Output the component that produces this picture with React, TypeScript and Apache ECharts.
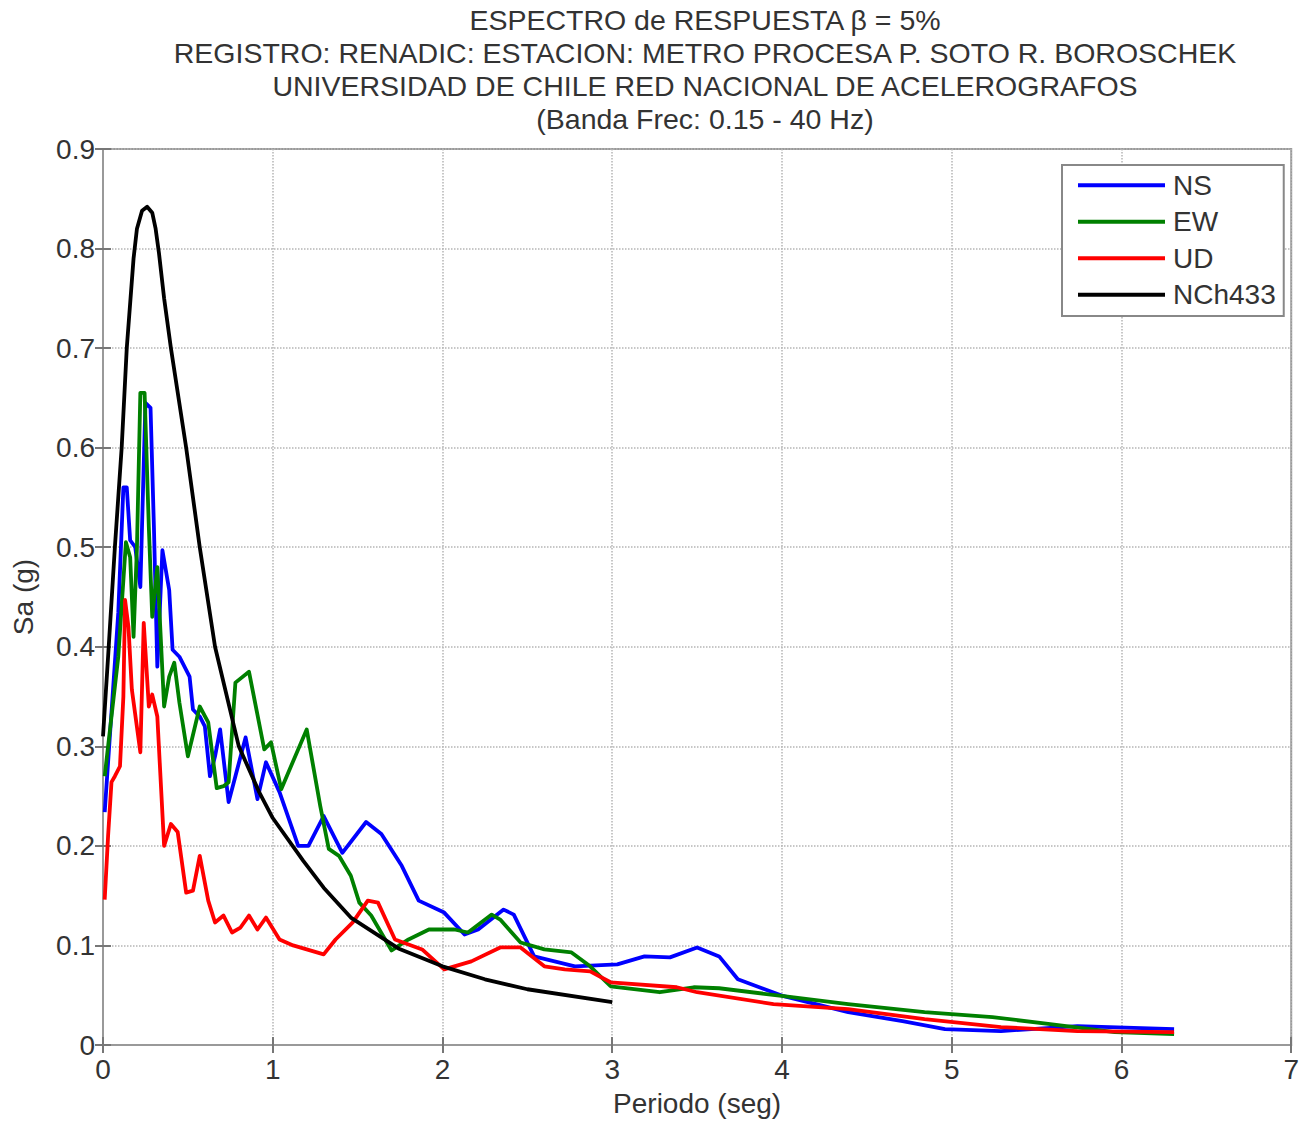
import React, { useEffect, useRef } from "react";
import * as echarts from "echarts";

const titleLines = [
  "ESPECTRO de RESPUESTA β = 5%",
  "REGISTRO: RENADIC: ESTACION: METRO PROCESA P. SOTO R. BOROSCHEK",
  "UNIVERSIDAD DE CHILE RED NACIONAL DE ACELEROGRAFOS",
  "(Banda Frec: 0.15 - 40 Hz)",
];

const xName = "Periodo (seg)";
const yName = "Sa (g)";

const nsT = [0.01, 0.05, 0.09, 0.12, 0.14, 0.16, 0.19, 0.22, 0.25, 0.28, 0.3, 0.32, 0.35, 0.39, 0.41, 0.45, 0.51, 0.53, 0.57, 0.6, 0.63, 0.66, 0.69, 0.74, 0.78, 0.84, 0.91, 0.96, 1.04, 1.15, 1.21, 1.3, 1.41, 1.55, 1.64, 1.76, 1.86, 2.01, 2.13, 2.21, 2.36, 2.42, 2.54, 2.78, 3.03, 3.19, 3.34, 3.5, 3.63, 3.74, 4.01, 4.39, 4.71, 4.96, 5.29, 5.74, 6.31];
const nsSa = [0.234, 0.334, 0.434, 0.56, 0.56, 0.507, 0.5, 0.46, 0.645, 0.64, 0.52, 0.38, 0.497, 0.457, 0.397, 0.39, 0.37, 0.337, 0.33, 0.32, 0.27, 0.29, 0.317, 0.244, 0.27, 0.309, 0.247, 0.284, 0.254, 0.2, 0.2, 0.23, 0.193, 0.224, 0.212, 0.18, 0.145, 0.133, 0.111, 0.116, 0.136, 0.131, 0.089, 0.079, 0.081, 0.089, 0.088, 0.098, 0.089, 0.066, 0.049, 0.033, 0.024, 0.016, 0.014, 0.019, 0.016];

const ewT = [0.01, 0.05, 0.09, 0.135, 0.16, 0.18, 0.2, 0.22, 0.245, 0.27, 0.29, 0.32, 0.36, 0.39, 0.42, 0.45, 0.5, 0.57, 0.62, 0.67, 0.71, 0.74, 0.78, 0.86, 0.95, 0.99, 1.05, 1.2, 1.28, 1.33, 1.39, 1.46, 1.51, 1.58, 1.7, 1.8, 1.92, 2.07, 2.15, 2.29, 2.34, 2.46, 2.6, 2.76, 2.87, 2.99, 3.28, 3.48, 3.63, 4.01, 4.39, 4.84, 5.24, 5.58, 5.96, 6.31];
const ewSa = [0.27, 0.33, 0.39, 0.505, 0.49, 0.41, 0.5, 0.655, 0.655, 0.52, 0.43, 0.48, 0.34, 0.37, 0.384, 0.344, 0.29, 0.34, 0.324, 0.258, 0.26, 0.264, 0.364, 0.375, 0.297, 0.304, 0.257, 0.317, 0.24, 0.197, 0.19, 0.17, 0.143, 0.13, 0.095, 0.106, 0.116, 0.116, 0.113, 0.131, 0.126, 0.103, 0.096, 0.093, 0.079, 0.059, 0.053, 0.058, 0.057, 0.049, 0.041, 0.033, 0.028, 0.021, 0.013, 0.011];

const udT = [0.01, 0.03, 0.05, 0.07, 0.1, 0.12, 0.13, 0.15, 0.17, 0.22, 0.24, 0.27, 0.29, 0.32, 0.36, 0.4, 0.44, 0.49, 0.53, 0.57, 0.62, 0.66, 0.71, 0.76, 0.81, 0.86, 0.91, 0.96, 1.04, 1.12, 1.2, 1.3, 1.37, 1.47, 1.56, 1.62, 1.72, 1.88, 2.01, 2.17, 2.34, 2.46, 2.6, 2.72, 2.87, 2.99, 3.38, 3.5, 3.95, 4.39, 4.84, 5.29, 5.74, 6.31];
const udSa = [0.146, 0.21, 0.264, 0.27, 0.28, 0.35, 0.447, 0.42, 0.357, 0.294, 0.424, 0.34, 0.352, 0.33, 0.2, 0.222, 0.214, 0.153, 0.155, 0.19, 0.145, 0.123, 0.13, 0.113, 0.118, 0.13, 0.116, 0.128, 0.106, 0.1, 0.096, 0.091, 0.106, 0.123, 0.145, 0.143, 0.106, 0.096, 0.076, 0.084, 0.098, 0.098, 0.079, 0.076, 0.074, 0.063, 0.058, 0.053, 0.041, 0.036, 0.026, 0.018, 0.014, 0.013];

const nchT = [0, 0.03, 0.07, 0.11, 0.14, 0.18, 0.2, 0.23, 0.26, 0.29, 0.31, 0.33, 0.36, 0.4, 0.49, 0.57, 0.66, 0.8, 0.92, 1.0, 1.18, 1.3, 1.46, 1.74, 2.0, 2.25, 2.5, 3.0];
const nchSa = [0.31, 0.39, 0.5, 0.6, 0.7, 0.79, 0.82, 0.838, 0.842, 0.836, 0.82, 0.795, 0.75, 0.7, 0.6, 0.5, 0.4, 0.3, 0.254, 0.228, 0.185, 0.158, 0.128, 0.097, 0.079, 0.066, 0.056, 0.043];

const seriesNames = ["NS", "EW", "UD", "NCh433"];
const seriesColors = ["#0000ff", "#008000", "#ff0000", "#000000"];

const pair = (t: number[], s: number[]) => t.map((v, i) => [v, s[i]]);

export default function App() {
  const ref = useRef<HTMLDivElement>(null);
  useEffect(() => {
    if (!ref.current) return;
    const chart = echarts.init(ref.current, undefined, { renderer: "svg" });
    const font = "'Liberation Sans', Arial, sans-serif";
    const datasets = [pair(nsT, nsSa), pair(ewT, ewSa), pair(udT, udSa), pair(nchT, nchSa)];
    const tickStyle = { show: true, inside: true, length: 8, lineStyle: { color: "#777", width: 2 } };
    chart.setOption({
      animation: false,
      backgroundColor: "#ffffff",
      title: {
        text: titleLines.join("\n"),
        left: 700,
        top: -2,
        textAlign: "center",
        textStyle: { fontFamily: font, fontSize: 28.5, fontWeight: "normal", color: "#333", lineHeight: 33 },
      },
      legend: {
        orient: "vertical",
        left: 1062,
        top: 165,
        padding: [6, 8, 7, 16],
        backgroundColor: "#fff",
        borderColor: "#888",
        borderWidth: 2,
        itemWidth: 87,
        itemHeight: 4,
        itemGap: 8,
        icon: "rect",
        textStyle: { fontFamily: font, fontSize: 28, color: "#333", lineHeight: 28.5, padding: [0, 0, 0, 3] },
        data: seriesNames,
      },
      grid: {
        left: 103,
        right: 4,
        top: 149,
        bottom: 76,
        show: true,
        borderColor: "#999",
        borderWidth: 2,
      },
      xAxis: [
        {
          type: "value",
          min: 0,
          max: 7,
          interval: 1,
          name: xName,
          nameLocation: "middle",
          nameGap: 44,
          nameTextStyle: { fontFamily: font, fontSize: 28, color: "#333" },
          axisLine: { show: true, lineStyle: { color: "#999", width: 2 } },
          axisTick: tickStyle,
          axisLabel: { fontFamily: font, fontSize: 28, color: "#333", margin: 10 },
          splitLine: { show: true, lineStyle: { color: "#b5b5b5", type: "dotted", width: 1.5 } },
        },
        {
          type: "value",
          position: "top",
          min: 0,
          max: 7,
          interval: 1,
          axisLine: { show: false },
          axisTick: tickStyle,
          axisLabel: { show: false },
          splitLine: { show: false },
        },
      ],
      yAxis: [
        {
          type: "value",
          min: 0,
          max: 0.9,
          interval: 0.1,
          name: yName,
          nameLocation: "middle",
          nameGap: 66,
          nameTextStyle: { fontFamily: font, fontSize: 28, color: "#333" },
          axisLine: { show: true, lineStyle: { color: "#999", width: 2 } },
          axisTick: tickStyle,
          axisLabel: { fontFamily: font, fontSize: 28, color: "#333", margin: 8 },
          splitLine: { show: true, lineStyle: { color: "#b5b5b5", type: "dotted", width: 1.5 } },
        },
        {
          type: "value",
          position: "right",
          min: 0,
          max: 0.9,
          interval: 0.1,
          axisLine: { show: false },
          axisTick: tickStyle,
          axisLabel: { show: false },
          splitLine: { show: false },
        },
      ],
      series: seriesNames.map((name, i) => ({
        name,
        type: "line",
        data: datasets[i],
        showSymbol: false,
        symbol: "none",
        smooth: false,
        lineStyle: { color: seriesColors[i], width: 3.8, join: "round" },
        itemStyle: { color: seriesColors[i] },
      })),
    });
    return () => chart.dispose();
  }, []);
  return <div ref={ref} style={{ position: "fixed", left: 0, top: 0, width: 1302, height: 1122 }} />;
}
